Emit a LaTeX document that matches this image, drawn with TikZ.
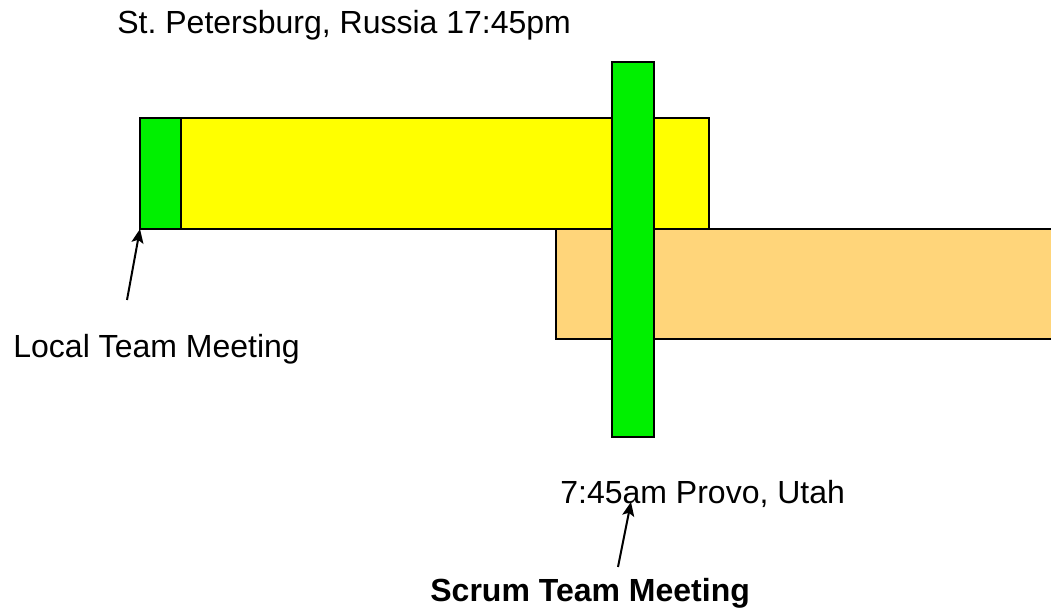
\documentclass[tikz,border=0pt]{standalone}
\usepackage{fontspec}
\setmainfont{Liberation Sans}
\usetikzlibrary{arrows.meta}
\definecolor{meetgreen}{RGB}{0,240,0}
\definecolor{dayyellow}{RGB}{255,255,0}
\definecolor{dayorange}{RGB}{255,213,122}
\begin{document}
\begin{tikzpicture}[line join=miter,x=0.5pt,y=-0.5pt,font=\fontsize{16}{19}\selectfont,
	box/.style={draw,line width=1pt,inner sep=0pt,outer sep=0pt,anchor=north west},
	lbl/.style={inner sep=0pt,anchor=base west},
	pointer/.style={-{Stealth[length=7pt,width=6pt,inset=1.5pt]},line width=1pt}]
	\useasboundingbox (0,0) rectangle (1051,608);
	\clip (0,0) rectangle (1051,608);
	% working days
	\node[box,fill=dayyellow,minimum width=284.5pt,minimum height=55.5pt] (spb) at (140,118) {};
	\node[box,fill=meetgreen,minimum width=20.5pt,minimum height=55.5pt] (local) at (140,118) {};
	\node[box,fill=dayorange,minimum width=260pt,minimum height=55pt] (provo) at (556,229) {};
	\node[box,fill=meetgreen,minimum width=21pt,minimum height=187.5pt] (scrum) at (612,62) {};
	% labels
	\path (117,33.5) node[lbl] (spbtime) {St.\ Petersburg, Russia 17:45pm}
	(13,357.3) node[lbl] (localname) {Local Team Meeting}
	(560,503.3) node[lbl] (provotime) {7:45am Provo, Utah}
	(430,601.7) node[lbl,font=\fontsize{16}{19}\selectfont\bfseries] (scrumname) {Scrum Team Meeting}
	;
	\coordinate (localtail) at (127,300);
	\coordinate (scrumtail) at (618,567);
	\coordinate (scrumtip) at (631,502);
	\draw[pointer] (localtail) -- (local.south west);
	\draw[pointer] (scrumtail) -- (scrumtip);
\end{tikzpicture}
\end{document}
